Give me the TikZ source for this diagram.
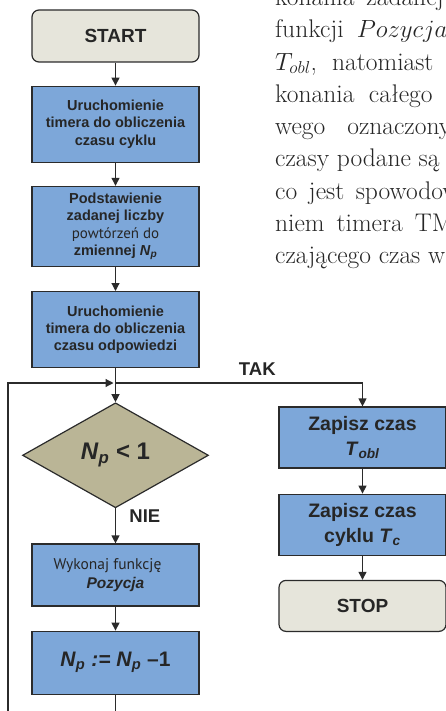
\documentclass[tikz,border=0pt]{standalone}
\usepackage{fontspec}
\newfontfamily\flowfont{Liberation Sans}
\newfontfamily\notefont{PT Sans}
\usepackage{xcolor}
\usetikzlibrary{shapes.geometric, arrows.meta, positioning}
\definecolor{procblue}{HTML}{7DA7D9}
\definecolor{termgray}{HTML}{E6E5DB}
\definecolor{condkhaki}{HTML}{BAB596}
\definecolor{edge}{HTML}{2B2B2B}
\newcommand{\Np}{\textit{N}\textsubscript{\textit{p}}}
\newcommand{\widespace}[1]{\spaceskip=#1\relax}

\begin{document}
\begin{tikzpicture}[x=1pt, y=-1pt,
  proc/.style={rectangle, draw=edge, line width=1.2pt, fill=procblue, minimum width=167pt, align=center, inner sep=2pt, text=black!85, font=\flowfont\bfseries\fontsize{14.5}{17.3}\selectfont},
  term/.style={proc, rounded corners=7pt, fill=termgray, font=\flowfont\bfseries\fontsize{19}{23}\selectfont},
  big/.style={proc, font=\flowfont\bfseries\fontsize{19.5}{25}\selectfont},
  cond/.style={diamond, draw=edge, line width=1.2pt, fill=condkhaki, minimum width=186pt, minimum height=105pt, inner sep=0pt, text=black!85, font=\flowfont\bfseries\fontsize{24}{28}\selectfont},
  flow/.style={draw=edge, line width=1.2pt, -{Triangle[length=8pt, width=8pt]}},
  lbl/.style={font=\flowfont\bfseries\fontsize{18.5}{22}\selectfont, text=black!85},
  body/.style={anchor=base west, inner sep=0pt, text=black!85, font=\fontsize{25.5}{32}\selectfont}
]
  \useasboundingbox (0,0) rectangle (446,711);
  \clip (0,0) rectangle (446,711);

  % left column
  \node[term, minimum height=52pt] (start) at (115.5,36) {START};
  \node[proc, minimum height=76pt, below=23pt of start] (timer1) {Uruchomienie\\timera do obliczenia\\czasu cyklu};
  \node[proc, minimum height=80pt, below=23pt of timer1] (setnp) {Podstawienie\\zadanej liczby\\{\notefont\mdseries\fontsize{15}{17}\selectfont powtórzeń do}\\zmiennej \Np};
  \node[proc, minimum height=76pt, below=24pt of setnp] (timer2) {Uruchomienie\\timera do obliczenia\\czasu odpowiedzi};
  \node[cond, below=34pt of timer2] (check) {\Np{} < 1};
  \node[proc, minimum height=62pt, below=35pt of check, font=\notefont\fontsize{15.5}{19.5}\selectfont] (func) {Wykonaj funkcję\hspace*{16pt}\\{\flowfont\bfseries\itshape Pozycja}};
  \node[proc, minimum height=63pt, below=24pt of func, font=\flowfont\bfseries\fontsize{21}{25}\selectfont] (dec) {\Np{} \textit{:=} \Np{} –1};

  % right column
  \node[big, minimum height=61pt] (tobl) at (362.5,437.5) {Zapisz czas\\\textit{T}\textsubscript{\textit{obl}}};
  \node[big, minimum height=61pt, below=25pt of tobl] (tcyc) {Zapisz czas\\cyklu \textit{T}\textsubscript{\textit{c}}};
  \node[term, minimum height=51pt, below=24pt of tcyc] (stop) {STOP};

  \coordinate (join) at (115.5,383);
  \coordinate (loopin) at (8,711);
  \coordinate (decout) at (115.5,711);

  \draw[flow] (start) -- (timer1);
  \draw[flow] (timer1) -- (setnp);
  \draw[flow] (setnp) -- (timer2);
  \draw[flow] (timer2) -- (check);
  \draw[flow] (join) -| node[lbl, pos=0.287, above=4pt] {TAK} (tobl);
  \draw[flow] (tobl) -- (tcyc);
  \draw[flow] (tcyc) -- (stop);
  \draw[flow] (check) -- node[lbl, pos=0.22, right=10pt] {NIE} (func);
  \draw[flow] (func) -- (dec);
  \draw[draw=edge, line width=1.2pt] (dec) -- (decout);
  \draw[flow, shorten >=2pt] (loopin) |- (join);

  % page text beside the chart
  \node[body] (line1) at (275,5.5) {\widespace{12pt}konania zadanej};
  \node[body] (line2) at (275,37.8) {\widespace{13pt}funkcji $Pozycja$};
  \node[body] (line3) at (275,70.1) {\widespace{15pt}$T_{obl}$, natomiast c};
  \node[body] (line4) at (275,102.4) {\widespace{14.5pt}konania całego};
  \node[body] (line5) at (275,134.7) {\widespace{22pt}wego oznaczony};
  \node[body] (line6) at (275,167) {czasy podane są};
  \node[body] (line7) at (275,199.3) {\widespace{11.5pt}co jest spowodow};
  \node[body] (line8) at (275,231.6) {\widespace{12pt}niem timera TM};
  \node[body] (line9) at (275,263.9) {czającego czas w};
\end{tikzpicture}
\end{document}
